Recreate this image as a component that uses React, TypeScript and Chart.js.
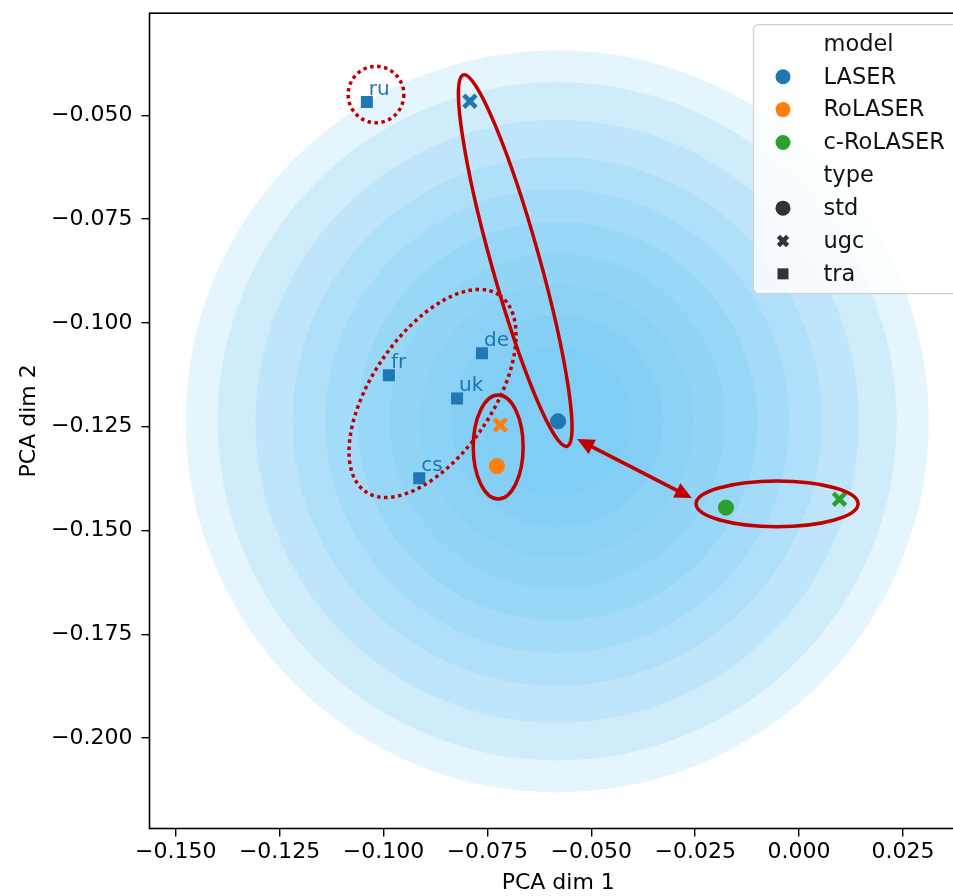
import React, { useEffect, useRef } from "react";
import { Chart, registerables } from "chart.js";

Chart.register(...registerables);

// ---------- data ----------
const modelNames = ["LASER", "RoLASER", "c-RoLASER"];
const modelColors = ["#1f77b4", "#ff7f0e", "#2ca02c"];
const typeNames = ["std", "ugc", "tra"];

const laserStdX = [-0.058];
const laserStdY = [-0.1237];
const laserUgcX = [-0.0792];
const laserUgcY = [-0.0466];
const traLangs = ["ru", "de", "fr", "uk", "cs"];
const traX = [-0.104, -0.0763, -0.0987, -0.0823, -0.0914];
const traY = [-0.0468, -0.1073, -0.1126, -0.1182, -0.1374];
const roStdX = [-0.0727];
const roStdY = [-0.1345];
const roUgcX = [-0.0719];
const roUgcY = [-0.1246];
const cRoStdX = [-0.0176];
const cRoStdY = [-0.1445];
const cRoUgcX = [0.0097];
const cRoUgcY = [-0.1425];

const xTicks = [-0.15, -0.125, -0.1, -0.075, -0.05, -0.025, 0, 0.025];
const yTicks = [-0.2, -0.175, -0.15, -0.125, -0.1, -0.075, -0.05];
const xRange = [-0.1563, 0.0404];
const yRange = [-0.2218, -0.0254];

// density background (concentric contour levels)
const kdeCenterX = -0.0582;
const kdeCenterY = -0.1237;
const kdeRadii = [0.0894, 0.0817, 0.0726, 0.0637, 0.0558, 0.0481, 0.0404, 0.0329, 0.0255, 0.018];

// red annotation ellipses
const annoCx = [-0.1018, -0.0683, -0.0882, -0.0724, -0.0053];
const annoCy = [-0.045, -0.085, -0.117, -0.1299, -0.1436];
const annoRx = [0.0067, 0.0464, 0.0286, 0.006, 0.0195];
const annoRy = [0.0068, 0.0058, 0.0146, 0.0125, 0.0055];
const annoAngle = [0, -74.4, 55.8, 0, 0];
const annoDotted = [true, false, true, false, false];
// double arrow
const arrowFrom = [-0.0534, -0.128];
const arrowTo = [-0.0258, -0.1422];

const FONT = "'DejaVu Sans', sans-serif";
const RED = "#c00000";
const W = 990;
const H = 896;

const fmt = (v: number) => {
  if (Math.abs(v) < 1e-12) return "0.000";
  return v.toFixed(3).replace("-", "\u2212");
};

const pts = (xs: number[], ys: number[]) => xs.map((x, i) => ({ x, y: ys[i] }));

const kdePlugin = {
  id: "kde",
  beforeDatasetsDraw(chart: any) {
    const { ctx, chartArea, scales } = chart;
    const xs = scales.x, ys = scales.y;
    const cx = xs.getPixelForValue(kdeCenterX);
    const cy = ys.getPixelForValue(kdeCenterY);
    ctx.save();
    ctx.beginPath();
    ctx.rect(chartArea.left, chartArea.top, chartArea.right - chartArea.left, chartArea.bottom - chartArea.top);
    ctx.clip();
    kdeRadii.forEach((r) => {
      const rx = Math.abs(xs.getPixelForValue(kdeCenterX + r) - cx);
      const ry = Math.abs(ys.getPixelForValue(kdeCenterY + r) - cy);
      ctx.beginPath();
      ctx.ellipse(cx, cy, rx, ry, 0, 0, Math.PI * 2);
      ctx.fillStyle = "rgba(105,198,246,0.175)";
      ctx.fill();
    });
    ctx.restore();
  },
};

function drawX(ctx: CanvasRenderingContext2D, x: number, y: number, h: number, lw: number, color: string) {
  ctx.save();
  ctx.strokeStyle = color;
  ctx.lineWidth = lw;
  ctx.beginPath();
  ctx.moveTo(x - h, y - h);
  ctx.lineTo(x + h, y + h);
  ctx.moveTo(x - h, y + h);
  ctx.lineTo(x + h, y - h);
  ctx.stroke();
  ctx.restore();
}

const overlayPlugin = {
  id: "overlay",
  afterDatasetsDraw(chart: any) {
    const { ctx, chartArea, scales } = chart;
    const xs = scales.x, ys = scales.y;
    ctx.save();

    // language labels
    ctx.font = `20px ${FONT}`;
    ctx.fillStyle = "#1f77b4";
    ctx.textAlign = "left";
    ctx.textBaseline = "alphabetic";
    traLangs.forEach((lab, i) => {
      const px = xs.getPixelForValue(traX[i]);
      const py = ys.getPixelForValue(traY[i]);
      ctx.fillText(lab, px + 2, py - 7);
    });

    // ellipses
    ctx.strokeStyle = RED;
    annoCx.forEach((cxv, i) => {
      const cx = xs.getPixelForValue(cxv);
      const cy = ys.getPixelForValue(annoCy[i]);
      const rx = Math.abs(xs.getPixelForValue(cxv + annoRx[i]) - cx);
      const ry = Math.abs(ys.getPixelForValue(annoCy[i] + annoRy[i]) - cy);
      ctx.beginPath();
      ctx.ellipse(cx, cy, rx, ry, (-annoAngle[i] * Math.PI) / 180, 0, Math.PI * 2);
      ctx.lineWidth = 3.5;
      if (annoDotted[i]) {
        ctx.setLineDash([3.5, 3.5]);
      } else {
        ctx.setLineDash([]);
      }
      ctx.stroke();
    });
    ctx.setLineDash([]);

    // double arrow
    const ax = xs.getPixelForValue(arrowFrom[0]);
    const ay = ys.getPixelForValue(arrowFrom[1]);
    const bx = xs.getPixelForValue(arrowTo[0]);
    const by = ys.getPixelForValue(arrowTo[1]);
    const ang = Math.atan2(by - ay, bx - ax);
    const hl = 17, hw = 8;
    const ux = Math.cos(ang), uy = Math.sin(ang);
    ctx.lineWidth = 3.5;
    ctx.beginPath();
    ctx.moveTo(ax + ux * hl * 0.8, ay + uy * hl * 0.8);
    ctx.lineTo(bx - ux * hl * 0.8, by - uy * hl * 0.8);
    ctx.stroke();
    ctx.fillStyle = RED;
    const head = (tx: number, ty: number, dx: number, dy: number) => {
      ctx.beginPath();
      ctx.moveTo(tx, ty);
      ctx.lineTo(tx - dx * hl - dy * hw, ty - dy * hl + dx * hw);
      ctx.lineTo(tx - dx * hl + dy * hw, ty - dy * hl - dx * hw);
      ctx.closePath();
      ctx.fill();
    };
    head(bx, by, ux, uy);
    head(ax, ay, -ux, -uy);

    // legend
    const lx = chartArea.right - 213.5;
    const ly = chartArea.top + 11.5;
    const lw = 205, lh = 269;
    ctx.beginPath();
    if ((ctx as any).roundRect) (ctx as any).roundRect(lx, ly, lw, lh, 5);
    else ctx.rect(lx, ly, lw, lh);
    ctx.fillStyle = "rgba(255,255,255,0.85)";
    ctx.fill();
    ctx.strokeStyle = "#d0d0d0";
    ctx.lineWidth = 1.2;
    ctx.stroke();

    const rows = ["model", ...modelNames, "type", ...typeNames];
    const mx = lx + 29.5;
    const tx = lx + 70;
    ctx.font = `22.5px ${FONT}`;
    ctx.textBaseline = "middle";
    ctx.textAlign = "left";
    rows.forEach((lab, i) => {
      const ry = ly + 19.2 + i * 32.85;
      ctx.fillStyle = "#111";
      ctx.fillText(lab, tx, ry + 1);
      const gray = "#333333";
      if (i >= 1 && i <= 3) {
        ctx.beginPath();
        ctx.arc(mx, ry, 7.5, 0, Math.PI * 2);
        ctx.fillStyle = modelColors[i - 1];
        ctx.fill();
      } else if (i === 5) {
        ctx.beginPath();
        ctx.arc(mx, ry, 7.5, 0, Math.PI * 2);
        ctx.fillStyle = gray;
        ctx.fill();
      } else if (i === 6) {
        drawX(ctx, mx, ry, 4.6, 4.6, gray);
      } else if (i === 7) {
        ctx.fillStyle = gray;
        ctx.fillRect(mx - 5.5, ry - 5.5, 11, 11);
      }
    });

    ctx.restore();
  },
  afterDraw(chart: any) {
    const { ctx, chartArea } = chart;
    ctx.save();
    ctx.strokeStyle = "#000";
    ctx.lineWidth = 1.6;
    ctx.strokeRect(chartArea.left, chartArea.top, chartArea.right - chartArea.left, chartArea.bottom - chartArea.top);
    ctx.restore();
  },
};

export default function App() {
  const ref = useRef<HTMLCanvasElement | null>(null);

  useEffect(() => {
    if (!ref.current) return;
    const circle = { pointStyle: "circle", pointRadius: 7.6, borderWidth: 1 };
    const cross = { pointStyle: "crossRot", pointRadius: 8.6, borderWidth: 4.6 };
    const square = { pointStyle: "rect", pointRadius: 8.5, borderWidth: 0 };
    const ds = (label: string, data: any[], color: string, style: any) => ({
      label,
      data,
      backgroundColor: color,
      borderColor: color,
      pointBackgroundColor: color,
      pointBorderColor: color,
      ...style,
    });
    const datasets = [
      ds("LASER std", pts(laserStdX, laserStdY), modelColors[0], circle),
      ds("LASER ugc", pts(laserUgcX, laserUgcY), modelColors[0], cross),
      ds("LASER tra", pts(traX, traY), modelColors[0], square),
      ds("RoLASER std", pts(roStdX, roStdY), modelColors[1], circle),
      ds("RoLASER ugc", pts(roUgcX, roUgcY), modelColors[1], cross),
      ds("c-RoLASER std", pts(cRoStdX, cRoStdY), modelColors[2], circle),
      ds("c-RoLASER ugc", pts(cRoUgcX, cRoUgcY), modelColors[2], cross),
    ];

    const tickFont = { family: FONT, size: 22 };
    const chart = new Chart(ref.current, {
      type: "scatter",
      data: { datasets } as any,
      options: {
        responsive: false,
        animation: false,
        devicePixelRatio: 1,
        events: [],
        layout: { padding: { top: 11, left: 0, right: W - 967, bottom: 0 } },
        plugins: {
          legend: { display: false },
          tooltip: { enabled: false },
        },
        scales: {
          x: {
            type: "linear",
            min: xRange[0],
            max: xRange[1],
            afterBuildTicks: (s: any) => {
              s.ticks = xTicks.map((v) => ({ value: v }));
            },
            afterFit: (s: any) => {
              s.height = H - 828.5;
              s.paddingLeft = 0;
              s.paddingRight = 0;
              s.paddingTop = 0;
              s.paddingBottom = 0;
            },
            grid: { display: true, drawOnChartArea: false, drawTicks: true, tickLength: 8, color: "#000", lineWidth: 1.4 },
            border: { display: false },
            ticks: {
              callback: (v: any) => fmt(Number(v)),
              color: "#000",
              font: tickFont,
              padding: 3,
              maxRotation: 0,
              autoSkip: false,
            },
            title: { display: true, text: "PCA dim 1", color: "#000", font: tickFont, padding: { top: 0, bottom: 0 } },
          },
          y: {
            type: "linear",
            min: yRange[0],
            max: yRange[1],
            afterBuildTicks: (s: any) => {
              s.ticks = yTicks.map((v) => ({ value: v }));
            },
            afterFit: (s: any) => {
              s.width = 149.5;
              s.paddingLeft = 0;
              s.paddingRight = 0;
              s.paddingTop = 0;
              s.paddingBottom = 0;
            },
            grid: { display: true, drawOnChartArea: false, drawTicks: true, tickLength: 8, color: "#000", lineWidth: 1.4 },
            border: { display: false },
            ticks: {
              callback: (v: any) => fmt(Number(v)),
              color: "#000",
              font: tickFont,
              padding: 9,
              autoSkip: false,
            },
            title: { display: true, text: "PCA dim 2", color: "#000", font: tickFont, padding: { top: 16, bottom: 0 } },
          },
        },
      } as any,
      plugins: [kdePlugin, overlayPlugin],
    });
    return () => chart.destroy();
  }, []);

  return (
    <div style={{ position: "absolute", left: 0, top: 0, width: 953, height: 896, overflow: "hidden", background: "#fff" }}>
      <canvas ref={ref} width={W} height={H} style={{ display: "block", width: W, height: H }} />
    </div>
  );
}
